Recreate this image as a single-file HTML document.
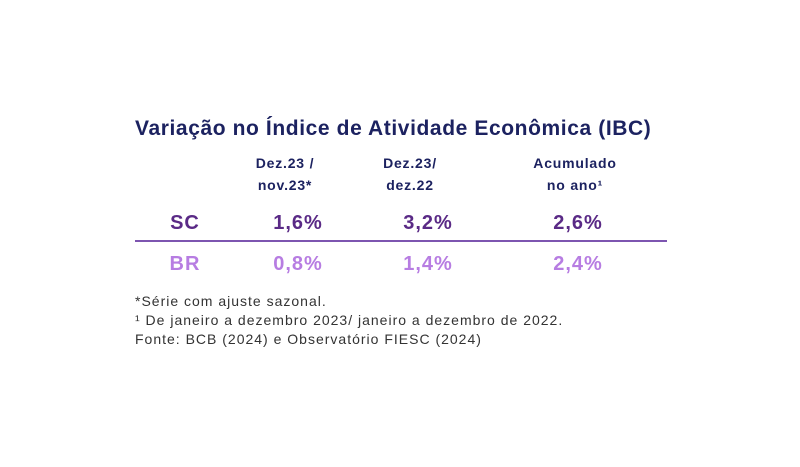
<!DOCTYPE html>
<html><head><style>
body{margin:0;width:800px;height:467px;background:#fff;position:relative;font-family:"Liberation Sans",sans-serif;overflow:hidden}
div{position:absolute;white-space:nowrap}
.t{left:135px;top:117px;font-size:21px;letter-spacing:0.6px;font-weight:bold;color:#1c2260}
.h{font-size:14px;letter-spacing:0.8px;font-weight:bold;color:#1c2260;text-align:center;line-height:22px;top:152px;width:140px}
.v{font-size:20px;letter-spacing:1px;font-weight:bold;text-align:center;width:120px}
.sc{color:#5a2a86}.br{color:#b77de2}
.f{left:135px;font-size:14px;letter-spacing:1px;color:#333}
</style></head><body>
<div class="t">Variação no Índice de Atividade Econômica (IBC)</div>
<div class="h" style="left:215px">Dez.23 /<br>nov.23*</div>
<div class="h" style="left:340px">Dez.23/<br>dez.22</div>
<div class="h" style="left:505px">Acumulado<br>no ano¹</div>
<div class="v sc" style="left:155px;top:212px;width:60px">SC</div>
<div class="v sc" style="left:238px;top:212px">1,6%</div>
<div class="v sc" style="left:368px;top:212px">3,2%</div>
<div class="v sc" style="left:518px;top:212px">2,6%</div>
<div style="left:135px;top:240px;width:532px;height:2px;background:#7d55b0"></div>
<div class="v br" style="left:155px;top:253px;width:60px">BR</div>
<div class="v br" style="left:238px;top:253px">0,8%</div>
<div class="v br" style="left:368px;top:253px">1,4%</div>
<div class="v br" style="left:518px;top:253px">2,4%</div>
<div class="f" style="top:293px">*Série com ajuste sazonal.</div>
<div class="f" style="top:312px">¹ De janeiro a dezembro 2023/ janeiro a dezembro de 2022.</div>
<div class="f" style="top:331px">Fonte: BCB (2024) e Observatório FIESC (2024)</div>
</body></html>
